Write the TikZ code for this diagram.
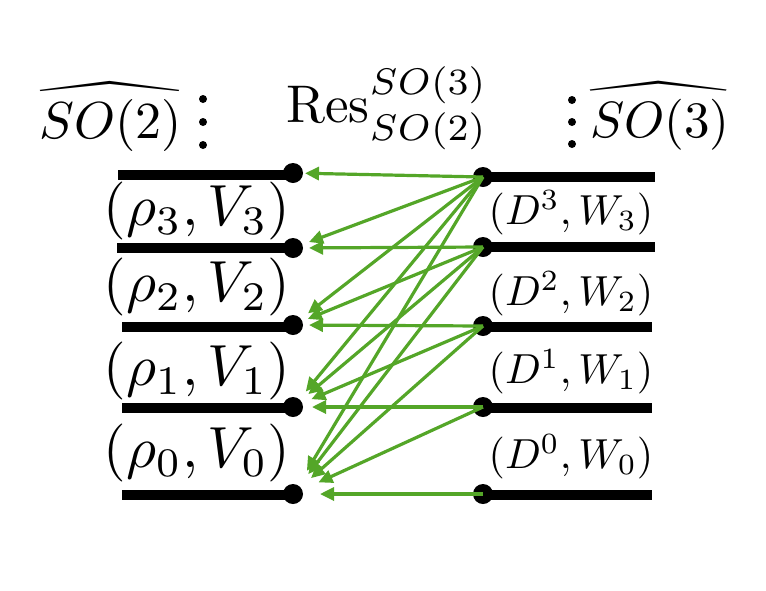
\documentclass[tikz,border=0pt]{standalone}
\usepackage{graphicx}
\usetikzlibrary{arrows.meta}
\definecolor{arrgreen}{RGB}{84,166,40}
\newsavebox\hattxtbox
\newsavebox\hatacbox
\newcommand{\stretchhat}[1]{%
  \sbox\hattxtbox{$#1$}%
  \sbox\hatacbox{$\widehat{\vphantom{#1}\hbox to 14.5pt{}}$}%
  \rlap{\resizebox{0.98\wd\hattxtbox}{\ht\hatacbox}{\usebox\hatacbox}}\usebox\hattxtbox}
\begin{document}
\begin{tikzpicture}[x=1pt,y=-1pt,
  bar/.style={line width=9.5pt},
  dotnode/.style={circle,fill=black,inner sep=0pt,minimum size=20pt},
  smalldot/.style={circle,fill=black,inner sep=0pt,minimum size=8pt},
  resarrow/.style={draw=arrgreen,line width=3.2pt,-{Triangle[length=14pt,width=13pt]}},
  lbl/.style={anchor=base,inner sep=0pt}]
\useasboundingbox (0,0) rectangle (766,590);
% left levels
\coordinate (l4) at (118,175);
\coordinate (l3) at (117,248);
\coordinate (l2) at (122,327);
\coordinate (l1) at (122,408);
\coordinate (l0) at (122,495);
\node[dotnode] (L4) at (293,173) {};
\node[dotnode] (L3) at (293,248) {};
\node[dotnode] (L2) at (293,325) {};
\node[dotnode] (L1) at (293,407) {};
\node[dotnode] (L0) at (293,494) {};
\foreach \k in {0,...,4} {\draw[bar] (l\k) -- (l\k -| L\k.center);}
% right levels
\coordinate (r4) at (655,177);
\coordinate (r3) at (655,247);
\coordinate (r2) at (652,327);
\coordinate (r1) at (652,408);
\coordinate (r0) at (652,495);
\node[dotnode] (R4) at (483,177) {};
\node[dotnode] (R3) at (483,247) {};
\node[dotnode] (R2) at (483,326) {};
\node[dotnode] (R1) at (483,407) {};
\node[dotnode] (R0) at (483,494) {};
\foreach \k in {0,...,4} {\draw[bar] (R\k.center |- r\k) -- (r\k);}
% labels
\node[lbl,scale=5.8] (t3) at (197,225.5) {$(\rho_3,V_3)$};
\node[lbl,scale=5.8] (t2) at (197,301.5) {$(\rho_2,V_2)$};
\node[lbl,scale=5.8] (t1) at (197,385.5) {$(\rho_1,V_1)$};
\node[lbl,scale=5.8] (t0) at (197,467.5) {$(\rho_0,V_0)$};
\node[lbl,scale=4.2] (d3) at (571,224.5) {$(D^3,W_3)$};
\node[lbl,scale=4.2] (d2) at (571,305.5) {$(D^2,W_2)$};
\node[lbl,scale=4.2] (d1) at (571,383.5) {$(D^1,W_1)$};
\node[lbl,scale=4.2] (d0) at (571,468.5) {$(D^0,W_0)$};
% top
\node[lbl,scale=5.2] (so2) at (111,138) {\stretchhat{SO(2)}};
\foreach \y [count=\i] in {99,122,145} {\node[smalldot] (c1d\i) at (203,\y) {};}
\node[lbl,scale=5.3] (res) at (387,122) {$\mathrm{Res}^{SO(3)}_{SO(2)}$};
\foreach \y [count=\i] in {100,122,144} {\node[smalldot] (c2d\i) at (572,\y) {};}
\node[lbl,scale=5.1] (so3) at (660,137) {\stretchhat{SO(3)}};
% arrows
\draw[resarrow,shorten >=12pt] (R4.center) -- (L4.center);
\draw[resarrow,shorten >=17pt] (R4.center) -- (L3.center);
\draw[resarrow,shorten >=19pt] (R4.center) -- (L2.center);
\draw[resarrow,shorten >=20pt] (R4.center) -- (L1.center);
\draw[resarrow,shorten >=27pt] (R4.center) -- (L0.center);
\draw[resarrow,shorten >=16pt] (R3.center) -- (L3.center);
\draw[resarrow,shorten >=16pt] (R3.center) -- (L2.center);
\draw[resarrow,shorten >=20pt] (R3.center) -- (L1.center);
\draw[resarrow,shorten >=25pt] (R3.center) -- (L0.center);
\draw[resarrow,shorten >=16pt] (R2.center) -- (L2.center);
\draw[resarrow,shorten >=20pt] (R2.center) -- (L1.center);
\draw[resarrow,shorten >=24pt] (R2.center) -- (L0.center);
\draw[resarrow,shorten >=19pt] (R1.center) -- (L1.center);
\draw[resarrow,shorten >=28pt] (R1.center) -- (L0.center);
\draw[resarrow,shorten >=27pt] (R0.center) -- (L0.center);
\end{tikzpicture}
\end{document}
